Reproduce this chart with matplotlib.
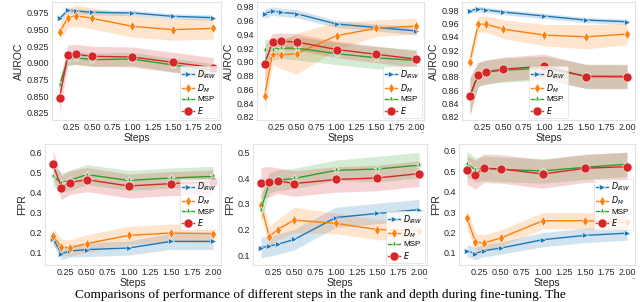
import matplotlib
matplotlib.use("Agg")
import matplotlib.pyplot as plt
from matplotlib.ticker import MultipleLocator, FormatStrFormatter
import numpy as np

steps = [0.1, 0.2, 0.3, 0.5, 1.0, 1.5, 2.0]
labels = [r"$D_{IRW}$", r"$D_M$", "MSP", r"$E$"]

# AUROC panels (top row)
auroc1 = {
    "irw": [0.967, 0.979, 0.978, 0.976, 0.975, 0.970, 0.968],
    "dm":  [0.946, 0.968, 0.971, 0.967, 0.955, 0.950, 0.952],
    "msp": [0.867, 0.906, 0.908, 0.905, 0.906, 0.897, 0.889],
    "e":   [0.848, 0.912, 0.913, 0.910, 0.909, 0.901, 0.893],
}
auroc1_sd = {
    "irw": [0.004, 0.004, 0.004, 0.004, 0.004, 0.004, 0.004],
    "dm":  [0.012, 0.015, 0.016, 0.016, 0.016, 0.016, 0.016],
    "msp": [0.010, 0.010, 0.010, 0.010, 0.010, 0.010, 0.010],
    "e":   [0.025, 0.015, 0.015, 0.015, 0.015, 0.015, 0.015],
}
auroc2 = {
    "irw": [0.970, 0.974, 0.972, 0.970, 0.955, 0.950, 0.945],
    "dm":  [0.851, 0.912, 0.910, 0.912, 0.938, 0.949, 0.952],
    "msp": [0.917, 0.918, 0.920, 0.920, 0.912, 0.906, 0.902],
    "e":   [0.897, 0.929, 0.930, 0.929, 0.918, 0.911, 0.904],
}
auroc2_sd = {
    "irw": [0.007, 0.006, 0.006, 0.006, 0.005, 0.005, 0.006],
    "dm":  [0.025, 0.015, 0.020, 0.030, 0.020, 0.012, 0.012],
    "msp": [0.015, 0.015, 0.015, 0.017, 0.016, 0.016, 0.016],
    "e":   [0.025, 0.012, 0.012, 0.012, 0.012, 0.012, 0.012],
}
auroc3 = {
    "irw": [0.9785, 0.982, 0.980, 0.977, 0.971, 0.965, 0.9625],
    "dm":  [0.9025, 0.9585, 0.959, 0.9515, 0.9425, 0.940, 0.944],
    "msp": [0.851, 0.884, 0.887, 0.890, 0.893, 0.881, 0.881],
    "e":   [0.851, 0.8835, 0.8875, 0.8915, 0.896, 0.8805, 0.880],
}
auroc3_sd = {
    "irw": [0.004, 0.004, 0.004, 0.004, 0.004, 0.004, 0.004],
    "dm":  [0.012, 0.012, 0.012, 0.014, 0.016, 0.018, 0.016],
    "msp": [0.028, 0.018, 0.018, 0.018, 0.018, 0.018, 0.018],
    "e":   [0.028, 0.018, 0.018, 0.018, 0.018, 0.018, 0.018],
}

# FPR panels (bottom row)
fpr1 = {
    "irw": [0.167, 0.092, 0.105, 0.112, 0.120, 0.153, 0.153],
    "dm":  [0.178, 0.125, 0.120, 0.142, 0.183, 0.195, 0.192],
    "msp": [0.478, 0.447, 0.458, 0.487, 0.458, 0.470, 0.478],
    "e":   [0.538, 0.422, 0.447, 0.462, 0.430, 0.442, 0.450],
}
fpr1_sd = {
    "irw": [0.03, 0.03, 0.03, 0.035, 0.035, 0.04, 0.04],
    "dm":  [0.04, 0.04, 0.04, 0.045, 0.045, 0.045, 0.045],
    "msp": [0.05, 0.05, 0.05, 0.05, 0.05, 0.05, 0.05],
    "e":   [0.07, 0.06, 0.06, 0.06, 0.06, 0.06, 0.06],
}
fpr2 = {
    "irw": [0.129, 0.135, 0.142, 0.161, 0.247, 0.263, 0.278],
    "dm":  [0.298, 0.172, 0.200, 0.237, 0.224, 0.200, 0.195],
    "msp": [0.278, 0.383, 0.393, 0.400, 0.432, 0.437, 0.452],
    "e":   [0.383, 0.387, 0.391, 0.380, 0.396, 0.402, 0.419],
}
fpr2_sd = {
    "irw": [0.04, 0.04, 0.04, 0.04, 0.04, 0.04, 0.04],
    "dm":  [0.04, 0.04, 0.04, 0.05, 0.04, 0.04, 0.04],
    "msp": [0.05, 0.04, 0.04, 0.04, 0.04, 0.05, 0.05],
    "e":   [0.06, 0.06, 0.05, 0.05, 0.05, 0.05, 0.05],
}
fpr3 = {
    "irw": [0.111, 0.097, 0.111, 0.124, 0.165, 0.186, 0.197],
    "dm":  [0.271, 0.154, 0.149, 0.173, 0.258, 0.258, 0.250],
    "msp": [0.536, 0.507, 0.515, 0.510, 0.502, 0.520, 0.535],
    "e":   [0.507, 0.483, 0.515, 0.512, 0.487, 0.515, 0.523],
}
fpr3_sd = {
    "irw": [0.03, 0.03, 0.03, 0.03, 0.035, 0.035, 0.035],
    "dm":  [0.05, 0.04, 0.04, 0.04, 0.04, 0.04, 0.04],
    "msp": [0.06, 0.06, 0.06, 0.06, 0.06, 0.06, 0.06],
    "e":   [0.07, 0.07, 0.07, 0.07, 0.07, 0.07, 0.07],
}

caption = "Comparisons of performance of different steps in the rank and depth during fine-tuning. The"

keys = ["irw", "dm", "msp", "e"]
colors = {"irw": "#1f77b4", "dm": "#ff7f0e", "msp": "#2ca02c", "e": "#d62728"}
markers = {"irw": ">", "dm": "d", "msp": "*", "e": "o"}
msizes = {"irw": 5, "dm": 5, "msp": 5.5, "e": 6.5}

plt.rcParams["font.family"] = ["Liberation Sans", "DejaVu Sans"]
plt.rcParams["mathtext.fontset"] = "dejavusans"

fig = plt.figure(figsize=(6.4, 3.02), dpi=100)
W, H = 640.0, 302.0

def pos(l, r, t, b):
    return [l / W, 1 - b / H, (r - l) / W, (b - t) / H]

panels = [
    (pos(52, 221, 2, 120), auroc1, auroc1_sd, "AUROC", (0.8145, 0.9915), 0.025, "%.3f", "lower right"),
    (pos(257, 424, 2, 120), auroc2, auroc2_sd, "AUROC", (0.8156, 0.987), 0.02, "%.2f", "lower right"),
    (pos(462, 635, 2, 120), auroc3, auroc3_sd, "AUROC", (0.8155, 0.992), 0.02, "%.2f", "lower center"),
    (pos(45, 221, 144, 265), fpr1, fpr1_sd, "FPR", (0.035, 0.64), 0.1, "%.1f", "center right"),
    (pos(253, 427, 144, 265), fpr2, fpr2_sd, "FPR", (0.061, 0.535), 0.1, "%.1f", "lower right"),
    (pos(459, 635, 144, 265), fpr3, fpr3_sd, "FPR", (0.041, 0.634), 0.1, "%.1f", "center right"),
]

x = np.array(steps)
for rect, data, sd, ylab, ylim, step, fmt, loc in panels:
    ax = fig.add_axes(rect)
    for k, lab in zip(keys, labels):
        y = np.array(data[k])
        s = np.array(sd[k])
        ax.fill_between(x, y - s, y + s, color=colors[k], alpha=0.2, linewidth=0)
        ax.plot(x, y, color=colors[k], marker=markers[k], ms=msizes[k], lw=1.0,
                mec="white", mew=0.4, label=lab)
    ax.set_ylim(*ylim)
    ax.margins(x=0.05)
    ax.yaxis.set_major_locator(MultipleLocator(step))
    ax.yaxis.set_major_formatter(FormatStrFormatter(fmt))
    ax.set_xticks([0.25, 0.5, 0.75, 1.0, 1.25, 1.5, 1.75, 2.0])
    ax.xaxis.set_major_formatter(FormatStrFormatter("%.2f"))
    ax.tick_params(length=0, labelsize=6.5, pad=2, colors="#262626")
    for sp in ax.spines.values():
        sp.set_color("#e3e3e3")
        sp.set_linewidth(0.8)
    ax.set_xlabel("Steps", fontsize=7.5, labelpad=1, color="#262626")
    ax.set_ylabel(ylab, fontsize=7.5, labelpad=2, color="#262626")
    ax.text(1.0, -0.09, "~", transform=ax.transAxes, fontsize=4, ha="right",
            va="top", color="#555555")
    leg = ax.legend(loc=loc, fontsize=5.8, handlelength=1.5, handletextpad=0.4,
                    borderpad=0.25, labelspacing=0.15, borderaxespad=0.3,
                    framealpha=0.8, edgecolor="#dddddd", fancybox=True)
    leg.get_frame().set_linewidth(0.6)

fig.text(0.5, 1.0 / H, caption, fontsize=9.5,
         family=["Liberation Serif", "DejaVu Serif"], va="bottom", ha="center")

fig.savefig("out.png", dpi=100)
